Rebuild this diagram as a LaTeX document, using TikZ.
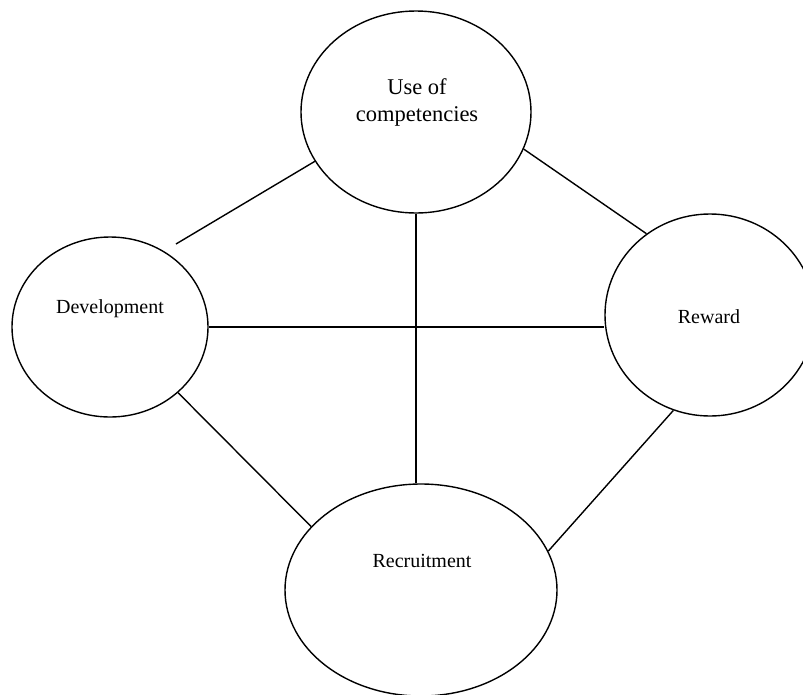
\documentclass[tikz,border=0pt]{standalone}
\usepackage{fontspec}
\setmainfont{Liberation Serif}
\usetikzlibrary{shapes.geometric}
\begin{document}
\begin{tikzpicture}[x=1pt,y=-1pt,
  circ/.style={draw=black,line width=1.4pt,ellipse,inner sep=0pt},
  lbl/.style={font=\fontsize{20}{24}\selectfont,align=center,inner sep=0pt},
  conn/.style={draw=black,line width=1.4pt}]
\useasboundingbox (0,0) rectangle (803,694);
\node[circ,minimum width=230pt,minimum height=202pt] (T) at (416,112) {};
\node[circ,minimum width=196pt,minimum height=180pt] (L) at (110,327) {};
\node[circ,minimum width=210pt,minimum height=202pt] (R) at (710,315) {};
\node[circ,minimum width=272pt,minimum height=212pt] (B) at (421,590) {};
\node[lbl,font=\fontsize{22.5}{27}\selectfont] (tT) at (417,102) {Use of\\competencies};
\node[lbl] (tL) at (110,309) {Development};
\node[lbl] (tR) at (709,317) {Reward};
\node[lbl] (tB) at (422,561) {Recruitment};
\coordinate (f1) at (176,244);
\draw[conn] (T.206) -- (f1);
\draw[conn] (T.341) -- (R.128);
\draw[conn] (L.east) -- (L.east -| R.west);
\draw[conn] (T.south) -- (T.south |- B.north);
\draw[conn] (L.316) -- (B.150);
\draw[conn] (R.249) -- (B.17);
\end{tikzpicture}
\end{document}
